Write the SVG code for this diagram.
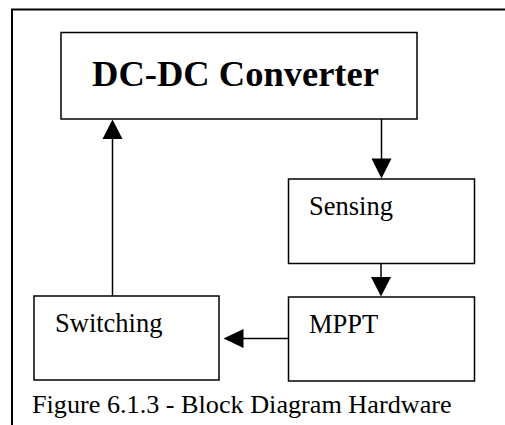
<svg xmlns="http://www.w3.org/2000/svg" width="505" height="425" viewBox="0 0 505 425">
  <style>
    .box { fill: #ffffff; stroke: #000000; stroke-width: 1.5; }
    .frame { fill: none; stroke: #000000; stroke-width: 2; }
    .wire { fill: none; stroke: #000000; stroke-width: 1.5; }
    .head { fill: #000000; stroke: none; }
    .lbl { font-family: "Liberation Serif", "Times New Roman", serif; fill: #000000; font-size: 26.5px; }
    .title { font-family: "Liberation Serif", "Times New Roman", serif; fill: #000000; font-size: 36.5px; font-weight: bold; }
    .cap { font-family: "Liberation Serif", "Times New Roman", serif; fill: #000000; font-size: 26.2px; }
  </style>
  <rect width="505" height="425" fill="#ffffff"/>

  <!-- surrounding frame (open to the right and bottom) -->
  <path class="frame" d="M12,425 V9.5 H506"/>

  <g id="connectors">
    <!-- Switching -> DC-DC Converter -->
    <line class="wire" x1="112.5" y1="296" x2="112.5" y2="138"/>
    <polygon class="head" points="112.5,119.5 102.5,139 122.5,139"/>
    <!-- DC-DC Converter -> Sensing -->
    <line class="wire" x1="381.5" y1="119" x2="381.5" y2="160"/>
    <polygon class="head" points="381.5,178.5 371.5,158.5 391.5,158.5"/>
    <!-- Sensing -> MPPT -->
    <line class="wire" x1="381" y1="264" x2="381" y2="280"/>
    <polygon class="head" points="381,296.5 371,277 391,277"/>
    <!-- MPPT -> Switching -->
    <line class="wire" x1="288" y1="338.5" x2="242" y2="338.5"/>
    <polygon class="head" points="223.5,338.5 243.5,329 243.5,348"/>
  </g>

  <g id="dcdc">
    <rect class="box" x="61" y="32.5" width="356" height="86.5"/>
    <text class="title" x="235.5" y="86" text-anchor="middle">DC-DC Converter</text>
  </g>

  <g id="sensing">
    <rect class="box" x="288.5" y="179" width="186" height="84.5"/>
    <text class="lbl" x="309" y="215">Sensing</text>
  </g>

  <g id="mppt">
    <rect class="box" x="288.5" y="297" width="186" height="84"/>
    <text class="lbl" x="309" y="333">MPPT</text>
  </g>

  <g id="switching">
    <rect class="box" x="34" y="296" width="185" height="84"/>
    <text class="lbl" x="55" y="332">Switching</text>
  </g>

  <text class="cap" x="32" y="413">Figure 6.1.3 - Block Diagram Hardware</text>
</svg>
